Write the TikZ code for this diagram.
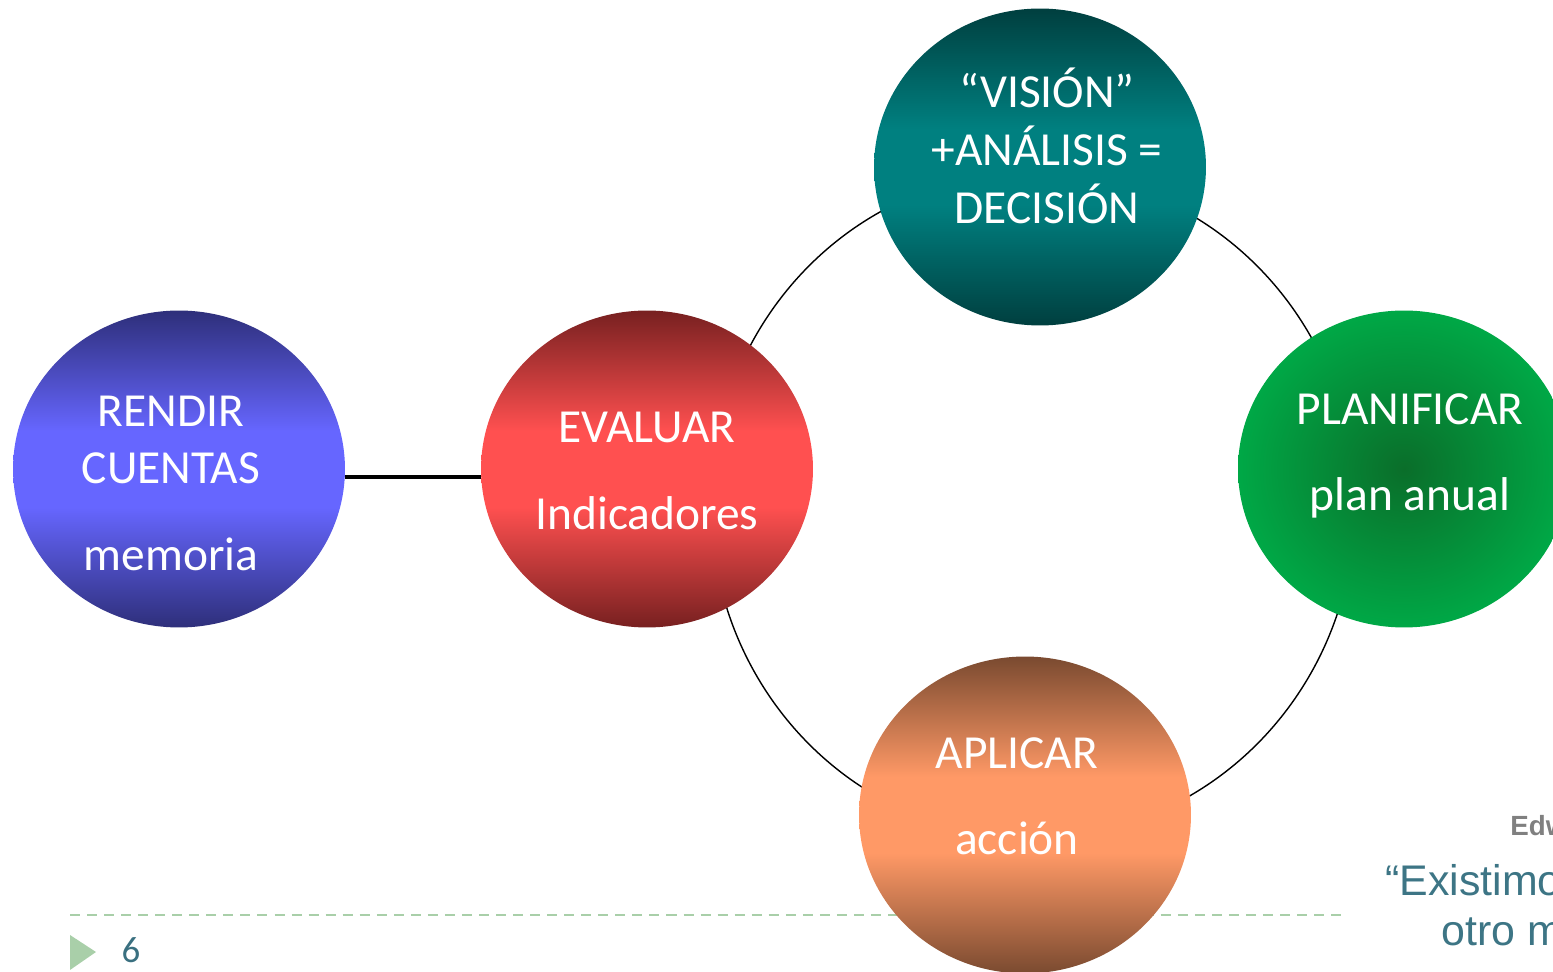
\documentclass[tikz,border=0pt]{standalone}
\usepackage{fontspec}
\setmainfont{Carlito}
\newfontfamily\arial{Liberation Sans}
\usetikzlibrary{positioning,shapes.geometric}

\definecolor{azul}{HTML}{6666FF}
\definecolor{azuloscuro}{HTML}{2E2F7A}
\definecolor{rojo}{HTML}{FF5050}
\definecolor{rojooscuro}{HTML}{772020}
\definecolor{turquesa}{HTML}{008080}
\definecolor{turquesaoscuro}{HTML}{003F3F}
\definecolor{naranja}{HTML}{FF9966}
\definecolor{marron}{HTML}{7A4A30}
\definecolor{verde}{HTML}{00A846}
\definecolor{verdeoscuro}{HTML}{0A6E2A}
\definecolor{pie}{HTML}{A9CFA9}
\definecolor{textopie}{HTML}{3A7080}
\definecolor{cita}{HTML}{3D7585}

% degradados: oscuro arriba y abajo, claro en el centro
\pgfdeclareverticalshading{bolaazul}{100bp}{color(0bp)=(azuloscuro); color(25bp)=(azuloscuro); color(44bp)=(azul); color(56bp)=(azul); color(75bp)=(azuloscuro); color(100bp)=(azuloscuro)}
\pgfdeclareverticalshading{bolaroja}{100bp}{color(0bp)=(rojooscuro); color(25bp)=(rojooscuro); color(44bp)=(rojo); color(56bp)=(rojo); color(75bp)=(rojooscuro); color(100bp)=(rojooscuro)}
\pgfdeclareverticalshading{bolaturquesa}{100bp}{color(0bp)=(turquesaoscuro); color(25bp)=(turquesaoscuro); color(44bp)=(turquesa); color(56bp)=(turquesa); color(75bp)=(turquesaoscuro); color(100bp)=(turquesaoscuro)}
\pgfdeclareverticalshading{bolanaranja}{100bp}{color(0bp)=(marron); color(25bp)=(marron); color(44bp)=(naranja); color(56bp)=(naranja); color(75bp)=(marron); color(100bp)=(marron)}

\tikzset{
  bola/.style={ellipse, minimum width=6.64cm, minimum height=6.34cm, inner sep=0pt},
  texto/.style={text=white, align=center, font=\fontsize{27}{33}\selectfont},
  anillo/.style={draw=black, line width=0.8pt},
  linea/.style={draw=black, line width=1.8pt},
  piepagina/.style={draw=pie, line width=1.1pt, dash pattern=on 5.7pt off 4pt}
}

\begin{document}
\begin{tikzpicture}[x=0.02cm, y=-0.02cm]
  \useasboundingbox (0,0) rectangle (1553,972);
  \clip (0,0) rectangle (1553,972);
  % pie de pagina
  \coordinate (pieizq) at (70,915);
  \coordinate (pieder) at (1343,915);
  \draw[piepagina] (pieizq) -- (pieder);
  \fill[pie] (70,935) -- (96,952) -- (70,970) -- cycle;
  \node[text=textopie, font=\fontsize{21}{24}\selectfont] (pagina) at (131,950) {6};
  % ciclo
  \coordinate (centro) at (1033,505);
  \draw[anillo] (centro) ellipse [x radius=6.44cm, y radius=6.66cm];
  \node[bola, shade, shading=bolaazul] (rendir) at (179,469) {};
  \node[bola, shade, shading=bolaroja] (evaluar) at (647,469) {};
  \node[bola, shade, shading=bolaturquesa] (vision) at (1040,167) {};
  \node[bola, inner color=verdeoscuro, outer color=verde] (planificar) at (1404,469) {};
  \node[bola, shade, shading=bolanaranja] (aplicar) at (1025,815) {};
  \draw[linea] ([yshift=-0.16cm]rendir.east) -- ([yshift=-0.16cm]evaluar.west);
  % textos
  \node[texto] (trendir) at (171,483) {RENDIR\\CUENTAS\\[16pt]memoria};
  \node[texto] (tevaluar) at (647,471) {EVALUAR\\[16pt]Indicadores};
  \node[texto] (tvision) at (1047,146) {“VISIÓN”\\+ANÁLISIS =\\DECISIÓN};
  \node[texto] (tplanificar) at (1410,456) {PLANIFICAR\\[16pt]plan anual};
  \node[texto] (taplicar) at (1017,796) {APLICAR\\[16pt]acción};
  % cita
  \node[anchor=base west, inner sep=0pt, text=gray, font=\arial\bfseries\fontsize{15.8}{18}\selectfont] (autor) at (1510,836) {Edw};
  \node[anchor=base west, inner sep=0pt, text=cita, font=\arial\fontsize{24.4}{28}\selectfont] (frase) at (1385,896) {“Existimos};
  \node[anchor=base west, inner sep=0pt, text=cita, font=\arial\fontsize{24.4}{28}\selectfont] (frase2) at (1441,946) {otro m};
\end{tikzpicture}
\end{document}
